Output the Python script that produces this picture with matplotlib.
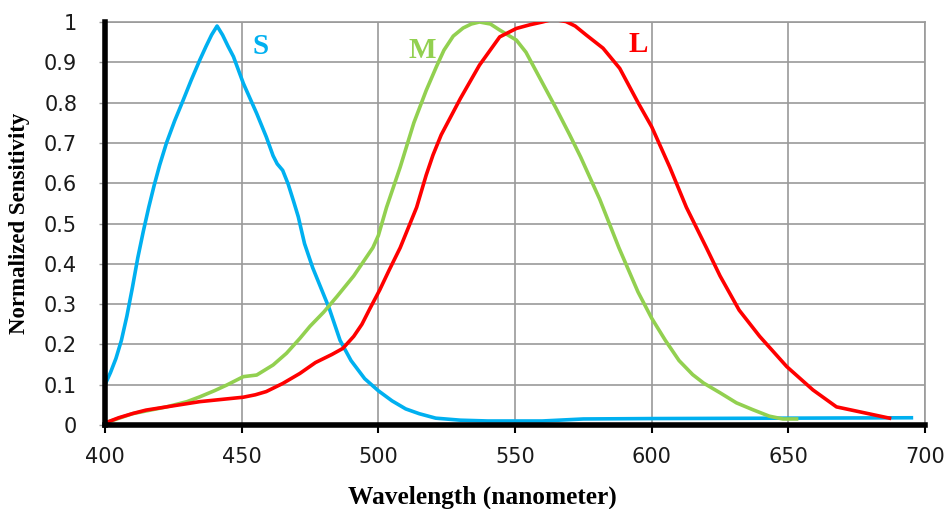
import matplotlib
matplotlib.use("Agg")
import matplotlib.pyplot as plt
from matplotlib.ticker import FuncFormatter

# cone sensitivity curves
s_nm = [400, 402, 404, 406, 408, 410, 412, 414, 416, 418, 420, 422.5, 425.5, 428.6, 431.5,
        434.7, 437, 439, 441, 443, 445, 447, 450.6, 455.5, 459, 461.5, 463, 465, 467,
        469, 470.7, 473, 476, 479, 482, 486, 490, 495, 500, 505, 510, 515, 521, 530,
        540, 560, 575, 600, 650, 695]
s_val = [0.10, 0.13, 0.165, 0.21, 0.27, 0.34, 0.415, 0.48, 0.54, 0.595, 0.645, 0.70, 0.755, 0.806, 0.855,
         0.906, 0.94, 0.968, 0.99, 0.968, 0.94, 0.914, 0.848, 0.773, 0.715, 0.668, 0.648, 0.632, 0.598,
         0.555, 0.517, 0.45, 0.39, 0.34, 0.29, 0.21, 0.16, 0.115, 0.085, 0.06, 0.04, 0.028, 0.017, 0.012,
         0.01, 0.01, 0.015, 0.016, 0.017, 0.018]

m_nm = [400, 410, 422.5, 430, 434.7, 440, 444.5, 450.6, 455.5, 461.5, 466.4, 471.3, 475, 480,
        485, 491, 495, 498, 500, 503, 508, 513, 517.5, 521.3, 524, 527.4, 531, 534, 537,
        541, 544.4, 550.5, 554, 557.8, 565, 570, 574, 581, 588, 595, 600, 605, 610, 615,
        619, 625, 631, 637, 643, 648, 653]
m_val = [0.005, 0.028, 0.045, 0.058, 0.07, 0.085, 0.099, 0.12, 0.124, 0.149, 0.178, 0.215, 0.245, 0.28,
         0.32, 0.37, 0.41, 0.44, 0.47, 0.54, 0.64, 0.75, 0.83, 0.89, 0.93, 0.965, 0.985, 0.995, 1.0,
         0.995, 0.98, 0.955, 0.925, 0.877, 0.786, 0.72, 0.665, 0.56, 0.44, 0.33, 0.265, 0.21, 0.16, 0.125,
         0.104, 0.08, 0.055, 0.038, 0.022, 0.015, 0.015]

l_nm = [400, 405, 410.4, 415, 422.5, 434.7, 450.6, 455, 459, 465, 471.3, 477, 483, 487, 491,
        494, 497, 500.5, 504, 508, 514, 517.5, 520, 523, 526.5, 530, 537, 544.4, 550.5, 555.4, 560,
        564, 568.7, 572, 576, 582.2, 588.3, 595, 600, 606.6, 612.7, 620, 625, 632, 639.5,
        649.4, 659, 667.6, 687]
l_val = [0.005, 0.018, 0.029, 0.037, 0.045, 0.058, 0.069, 0.075, 0.083, 0.103, 0.128, 0.155, 0.175, 0.19, 0.22,
         0.25, 0.29, 0.335, 0.385, 0.44, 0.54, 0.62, 0.67, 0.72, 0.765, 0.81, 0.893, 0.963, 0.984, 0.993, 1.0,
         1.007, 1.001, 0.99, 0.968, 0.935, 0.885, 0.80, 0.74, 0.64, 0.54, 0.44, 0.37, 0.285, 0.22,
         0.145, 0.087, 0.045, 0.017]

x_ticks = [400, 450, 500, 550, 600, 650, 700]
y_ticks = [0, 0.1, 0.2, 0.3, 0.4, 0.5, 0.6, 0.7, 0.8, 0.9, 1.0]

BLUE = "#00B0F0"
GREEN = "#92D050"
RED = "#FF0000"

fig = plt.figure(figsize=(9.51, 5.09), dpi=100)
ax = fig.add_axes([0.1104, 0.165, 0.8623, 0.7918])

ax.plot(s_nm, s_val, color=BLUE, lw=2.6, solid_joinstyle="round", zorder=3)
ax.plot(m_nm, m_val, color=GREEN, lw=2.6, solid_joinstyle="round", zorder=3)
ax.plot(l_nm, l_val, color=RED, lw=2.6, solid_joinstyle="round", zorder=4)

ax.set_xlim(400, 700)
ax.set_ylim(0, 1)
ax.set_xticks(x_ticks)
ax.set_yticks(y_ticks)
ax.yaxis.set_major_formatter(FuncFormatter(lambda v, p: "%g" % round(v, 1)))

ax.grid(True, color="#9a9a9a", lw=1.2)
ax.set_axisbelow(True)

for side in ["top", "right"]:
    ax.spines[side].set_color("#9a9a9a")
    ax.spines[side].set_linewidth(1.2)
for side in ["left", "bottom"]:
    ax.spines[side].set_color("black")
    ax.spines[side].set_linewidth(4)
    ax.spines[side].set_zorder(5)

ax.tick_params(axis="x", direction="out", length=6, width=1.5, color="black",
               pad=10, labelsize=15, labelcolor="#1a1a1a")
ax.tick_params(axis="y", direction="out", length=4, width=1, color="#9a9a9a",
               pad=16, labelsize=15, labelcolor="#1a1a1a")

serif = ["Liberation Serif", "DejaVu Serif"]
ax.set_xlabel("Wavelength (nanometer)", family=serif, fontweight="bold",
              fontsize=18.3, va="center")
ax.xaxis.set_label_coords(0.46, -0.18)
ax.set_ylabel("Normalized Sensitivity", family=serif, fontweight="bold",
              fontsize=16.5, labelpad=10)

ax.text(457, 0.94, "S", color=BLUE, family=serif, fontweight="bold",
        fontsize=21, ha="center", va="center")
ax.text(516, 0.93, "M", color=GREEN, family=serif, fontweight="bold",
        fontsize=21, ha="center", va="center")
ax.text(595, 0.943, "L", color=RED, family=serif, fontweight="bold",
        fontsize=21, ha="center", va="center")

fig.savefig("out.png", dpi=100)
